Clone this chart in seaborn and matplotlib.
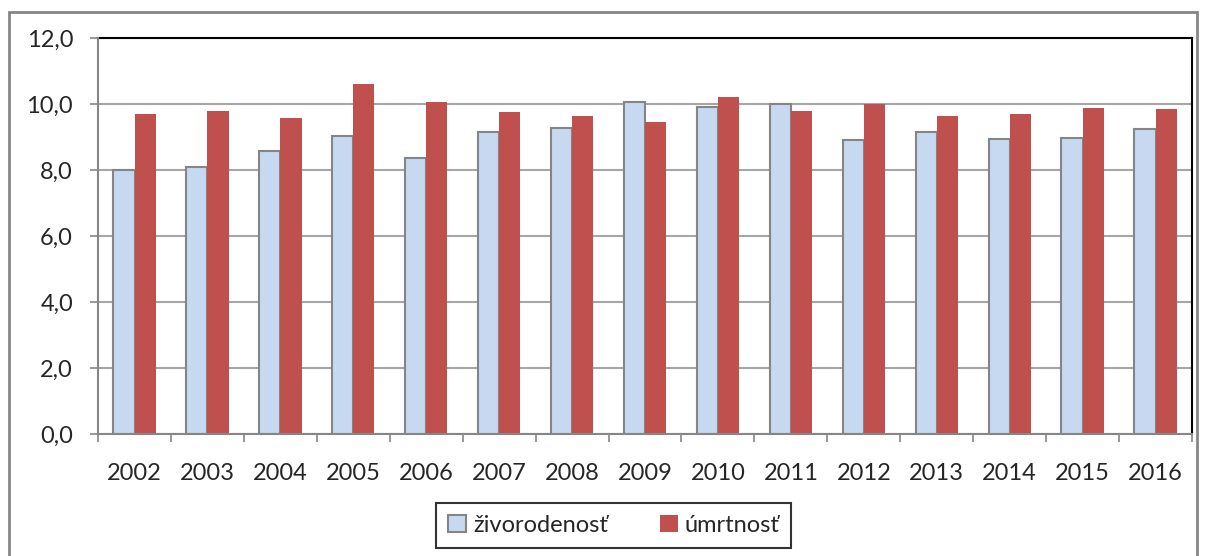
import pandas as pd
import matplotlib.pyplot as plt
import seaborn as sns
from matplotlib.ticker import FuncFormatter, FixedLocator
from matplotlib.patches import Rectangle

# Data
years = ['2002', '2003', '2004', '2005', '2006', '2007', '2008', '2009',
         '2010', '2011', '2012', '2013', '2014', '2015', '2016']
zivorodenost = [8.00, 8.10, 8.57, 9.03, 8.35, 9.15, 9.27, 10.06,
                9.91, 10.00, 8.90, 9.16, 8.95, 8.97, 9.24]
umrtnost = [9.70, 9.79, 9.58, 10.61, 10.06, 9.76, 9.64, 9.45,
            10.21, 9.79, 10.00, 9.64, 9.70, 9.88, 9.85]
series = ['živorodenosť', 'úmrtnosť']
colors = {'živorodenosť': '#C6D9F1', 'úmrtnosť': '#C0504D'}

df = pd.DataFrame({
    'rok': years * 2,
    'hodnota': zivorodenost + umrtnost,
    'ukazovatel': [series[0]] * len(years) + [series[1]] * len(years),
})

sns.set_style('white')
plt.rcParams['font.family'] = ['Lato', 'DejaVu Sans']

fig = plt.figure(figsize=(12.06, 5.56), dpi=100)
ax = fig.add_axes([0.0813, 0.2194, 0.9071, 0.7123])

sns.barplot(data=df, x='rok', y='hodnota', hue='ukazovatel', palette=colors,
            width=0.58, gap=0, saturation=1, ax=ax, legend=False, zorder=3)

# grey outline on the light bars only
for bar in ax.containers[0]:
    bar.set_edgecolor('#858585')
    bar.set_linewidth(1.5)
for bar in ax.containers[1]:
    bar.set_linewidth(0)

ax.set_ylim(0, 12)
ax.set_xlim(-0.5, len(years) - 0.5)
ax.set_yticks([0, 2, 4, 6, 8, 10, 12])
ax.yaxis.set_major_formatter(FuncFormatter(lambda v, _: f'{v:.1f}'.replace('.', ',')))
ax.grid(axis='y', color='#A6A6A6', lw=1.5, zorder=0)
ax.set_axisbelow(True)

ax.xaxis.set_minor_locator(FixedLocator([i - 0.5 for i in range(len(years) + 1)]))
ax.tick_params(axis='x', which='major', length=0, pad=21, labelsize=17)
ax.tick_params(axis='x', which='minor', length=6, width=1.2, color='#868686', direction='out', bottom=True)
ax.tick_params(axis='y', length=6, width=1.2, color='#868686', direction='out', left=True, pad=12, labelsize=17)
ax.set_xlabel('')
ax.set_ylabel('')

for side in ['left', 'bottom']:
    ax.spines[side].set_color('#868686')
    ax.spines[side].set_linewidth(1.5)
for side in ['top', 'right']:
    ax.spines[side].set_color('black')
    ax.spines[side].set_linewidth(1.5)
ax.spines['left'].set_zorder(5)
ax.spines['bottom'].set_zorder(5)

# legend
handles = [Rectangle((0, 0), 1, 1, facecolor=colors[series[0]], edgecolor='#858585', lw=1.5),
           Rectangle((0, 0), 1, 1, facecolor=colors[series[1]], edgecolor='none')]
leg = fig.legend(handles, series, loc='center', bbox_to_anchor=(0.509, 0.055),
                 ncol=2, frameon=True, fancybox=False, fontsize=17,
                 handlelength=0.75, handleheight=0.75, handletextpad=0.3,
                 columnspacing=2.2, borderpad=0.5, borderaxespad=0)
leg.get_frame().set_edgecolor('black')
leg.get_frame().set_linewidth(1.5)

# outer chart border
fig.patches.append(Rectangle((9 / 1206, -0.05), 1188 / 1206, 1 - 12 / 556 + 0.05,
                             transform=fig.transFigure, fill=False,
                             edgecolor='#868686', lw=2))

fig.savefig('out.png', dpi=100)
